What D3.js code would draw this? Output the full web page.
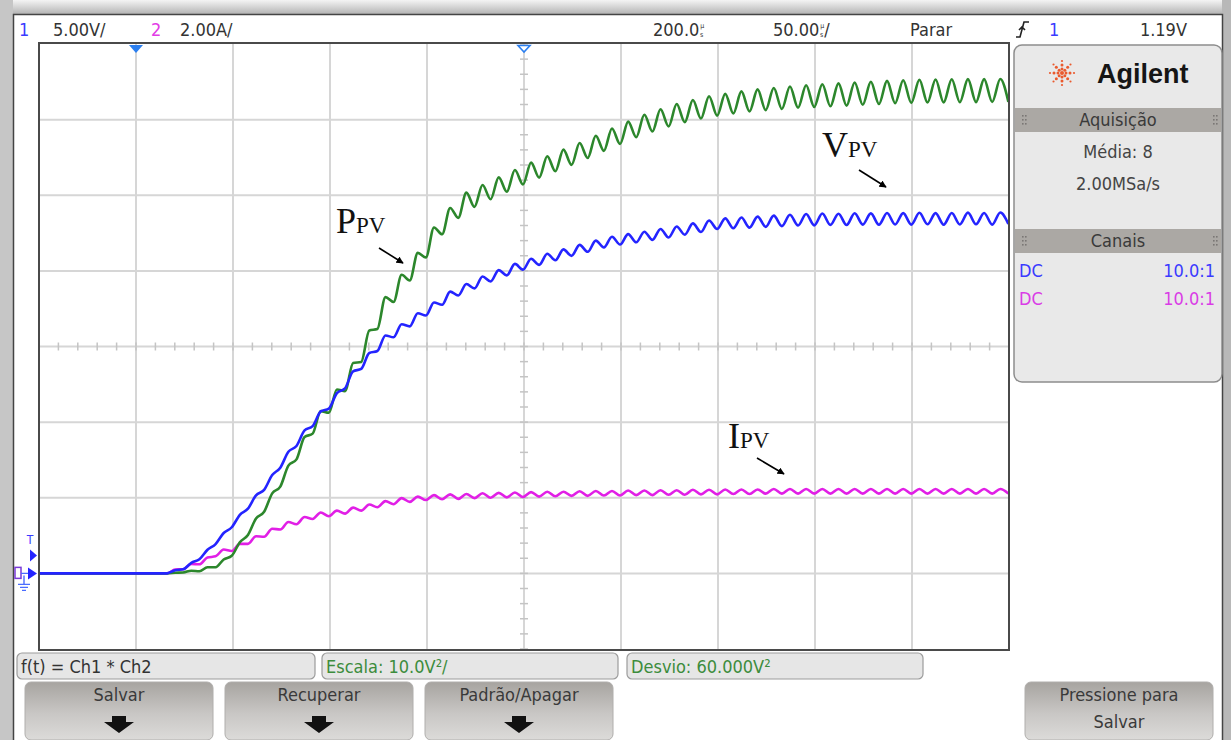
<!DOCTYPE html>
<html>
<head>
<meta charset="utf-8">
<script src="https://cdn.jsdelivr.net/npm/d3@7"></script>
<style>
  body { margin: 0; background: #fff; }
  svg { display: block; }
  .scope { font-family: 'Liberation Sans Narrow', 'DejaVu Sans Condensed', 'Roboto Condensed', sans-serif; }
  .lbl { font-family: 'Liberation Serif', 'DejaVu Serif', serif; fill: #111; }
</style>
</head>
<body>
<div id="chart"></div>
<script>
(function () {

// time base: 50 us/div, delay 200 us -> screen spans -50..450 us
const timeGrid = [-50, 0, 50, 100, 150, 200, 250, 300, 350, 400, 450];
const divGrid = [-4, -3, -2, -1, 0, 1, 2, 3, 4];

// samples (peaks / troughs of the ripple), one every 4.17 us from t = 16 us
const sampleStart = 16, sampleStep = 4.17;

// Ch1, V_PV (volts, 5 V/div)
const vpv = [0.00, 0.21, 0.27, 0.70, 0.93, 1.56, 1.94, 2.67, 3.05, 3.87, 4.28, 5.16, 5.52, 6.50, 6.99,
  8.04, 8.42, 9.45, 9.73, 10.71, 10.89, 11.92, 12.23, 13.36, 13.52, 14.57, 14.70, 15.73, 15.61, 16.47,
  16.33, 17.20, 17.05, 17.91, 17.76, 18.63, 18.37, 19.13, 18.84, 19.63, 19.30, 20.05, 19.70, 20.46, 20.08,
  20.80, 20.40, 21.13, 20.70, 21.42, 20.99, 21.72, 21.26, 22.00, 21.55, 22.26, 21.74, 22.43, 21.89, 22.59,
  22.05, 22.77, 22.21, 22.93, 22.39, 23.14, 22.57, 23.33, 22.77, 23.47, 22.82, 23.53, 22.86, 23.59, 22.91,
  23.65, 22.96, 23.71, 23.00, 23.76, 23.01, 23.79, 23.04, 23.78, 23.03, 23.81, 23.06, 23.80, 23.05, 23.83,
  23.07, 23.82, 23.06, 23.84, 23.08, 23.82, 23.05, 23.83, 23.07, 23.85, 23.08, 23.83, 23.06, 23.86, 23.10];

// Math f(t) = Ch1 * Ch2, P_PV (10 V^2/div)
const ppv = [0.00, 0.08, 0.12, 0.35, 0.28, 0.80, 0.81, 1.84, 2.33, 4.11, 5.08, 7.26, 8.14, 10.58, 11.47,
  14.25, 15.07, 18.02, 18.48, 21.46, 21.25, 24.31, 24.09, 27.82, 27.96, 32.12, 32.31, 36.53, 35.88, 39.48,
  38.73, 42.38, 41.78, 45.74, 44.84, 48.31, 47.01, 50.35, 48.46, 51.36, 49.47, 52.37, 50.46, 53.34, 51.43,
  54.31, 52.33, 55.16, 53.18, 56.03, 54.01, 56.91, 54.93, 57.87, 55.87, 58.83, 56.78, 59.74, 57.67, 60.64,
  58.42, 61.37, 59.11, 62.06, 59.67, 62.59, 60.15, 63.09, 60.53, 63.41, 60.81, 63.73, 61.09, 64.00, 61.26,
  64.19, 61.41, 64.38, 61.57, 64.54, 61.67, 64.67, 61.76, 64.79, 61.85, 64.90, 61.96, 65.01, 62.06, 65.12,
  62.17, 65.21, 62.22, 65.28, 62.26, 65.31, 62.28, 65.33, 62.30, 65.35, 62.31, 65.36, 62.33, 65.37, 62.34];

// Ch2, I_PV (amps, 2 A/div)
const ipv = [0.00, 0.10, 0.11, 0.25, 0.24, 0.42, 0.45, 0.63, 0.59, 0.78, 0.78, 0.98, 0.97, 1.18, 1.16,
  1.36, 1.30, 1.49, 1.44, 1.61, 1.51, 1.66, 1.58, 1.74, 1.66, 1.82, 1.75, 1.91, 1.83, 1.99,
  1.89, 2.03, 1.94, 2.07, 1.96, 2.09, 1.97, 2.10, 1.99, 2.12, 2.00, 2.13, 2.01, 2.14, 2.02,
  2.15, 2.03, 2.16, 2.04, 2.16, 2.05, 2.17, 2.05, 2.18, 2.06, 2.18, 2.06, 2.19, 2.07, 2.19,
  2.07, 2.20, 2.08, 2.20, 2.08, 2.21, 2.09, 2.21, 2.09, 2.22, 2.10, 2.22, 2.10, 2.22, 2.11,
  2.23, 2.11, 2.23, 2.11, 2.23, 2.11, 2.23, 2.11, 2.23, 2.11, 2.23, 2.11, 2.23, 2.11, 2.23,
  2.11, 2.23, 2.11, 2.23, 2.11, 2.23, 2.11, 2.23, 2.11, 2.23, 2.11, 2.23, 2.11, 2.23, 2.11];

const traces = [
  {name: "ipv", values: ipv, perDiv: 2, color: "#e11fe6"},
  {name: "ppv", values: ppv, perDiv: 10, color: "#2c872c"},
  {name: "vpv", values: vpv, perDiv: 5, color: "#2424ff"}
];

const groundDiv = -3;   // all three traces referenced 3 div below centre
const trigLevel = 1.19; // V on ch1

const W = 1231, H = 740;
const svg = d3.select("#chart").append("svg")
    .attr("width", W).attr("height", H)
    .attr("class", "scope");

const x = d3.scaleLinear().domain([-50, 450]).range([39, 1009]);
const yDiv = d3.scaleLinear().domain([-4, 4]).range([649, 44]);
const yOf = (v, perDiv) => yDiv(v / perDiv + groundDiv);

const defs = svg.append("defs");
const topGrad = defs.append("linearGradient").attr("id", "topg").attr("x1", 0).attr("x2", 0).attr("y1", 0).attr("y2", 1);
topGrad.append("stop").attr("offset", "0%").attr("stop-color", "#f4f4f4");
topGrad.append("stop").attr("offset", "100%").attr("stop-color", "#b4b4b4");
const keyGrad = defs.append("linearGradient").attr("id", "keyg").attr("x1", 0).attr("x2", 0).attr("y1", 0).attr("y2", 1);
keyGrad.append("stop").attr("offset", "0%").attr("stop-color", "#a7a4a0");
keyGrad.append("stop").attr("offset", "55%").attr("stop-color", "#c9c7c5");
keyGrad.append("stop").attr("offset", "100%").attr("stop-color", "#dcdbd9");
defs.append("clipPath").attr("id", "plotclip").append("rect")
    .attr("x", x(-50)).attr("y", yDiv(4)).attr("width", x(450) - x(-50)).attr("height", yDiv(-4) - yDiv(4));
defs.append("marker").attr("id", "ah").attr("viewBox", "0 0 10 10").attr("refX", 9).attr("refY", 5)
    .attr("markerWidth", 4.5).attr("markerHeight", 4.5).attr("orient", "auto")
  .append("path").attr("d", "M0,0 L10,5 L0,10 z").attr("fill", "#000");

// outer bezel
svg.append("rect").attr("x", 0).attr("y", 0).attr("width", W).attr("height", 14).attr("fill", "url(#topg)");
svg.append("rect").attr("x", 0).attr("y", 0).attr("width", 13).attr("height", H).attr("fill", "#c6c6c6");
svg.append("rect").attr("x", 1222).attr("y", 0).attr("width", 9).attr("height", H).attr("fill", "#b8b8b8");
svg.append("path").attr("d", "M13.5,740 V14.5 H1222.5 V740").attr("fill", "none").attr("stroke", "#444").attr("stroke-width", 1.5);

// header line
const head = svg.append("g").attr("font-size", 18).attr("fill", "#333");
head.append("text").attr("x", 19).attr("y", 36).attr("fill", "#3b3bff").text("1");
head.append("text").attr("x", 53).attr("y", 36).text("5.00V/");
head.append("text").attr("x", 151).attr("y", 36).attr("fill", "#e23ce6").text("2");
head.append("text").attr("x", 180).attr("y", 36).text("2.00A/");
// value followed by a small stacked "µ over s" unit glyph
function usText(x0, main, tail) {
  const t = head.append("text").attr("x", x0).attr("y", 36);
  t.append("tspan").text(main);
  t.append("tspan").attr("font-size", 7).attr("dx", 1).attr("dy", -8).text("µ");
  t.append("tspan").attr("font-size", 7).attr("dx", -4.5).attr("dy", 9).text("s");
  if (tail) t.append("tspan").attr("font-size", 18).attr("dx", 1).attr("dy", -1).text(tail);
}
usText(653, "200.0", "");
usText(773, "50.00", "/");
head.append("text").attr("x", 910).attr("y", 36).text("Parar");
head.append("path").attr("d", "M1016,37 H1020 L1024,22 H1029 M1019,30 L1022,27 L1025,30")
    .attr("fill", "none").attr("stroke", "#222").attr("stroke-width", 1.6);
head.append("text").attr("x", 1049).attr("y", 36).attr("fill", "#3b3bff").text("1");
head.append("text").attr("x", 1187).attr("y", 36).attr("text-anchor", "end").text("1.19V");

// graticule
const grid = svg.append("g");
grid.selectAll("line.gx").data(timeGrid.slice(1, -1)).join("line")
    .attr("x1", d => x(d)).attr("x2", d => x(d)).attr("y1", yDiv(4)).attr("y2", yDiv(-4))
    .attr("stroke", "#d6d6d6").attr("stroke-width", 2);
grid.selectAll("line.gy").data(divGrid.slice(1, -1)).join("line")
    .attr("y1", d => yDiv(d)).attr("y2", d => yDiv(d)).attr("x1", x(-50)).attr("x2", x(450))
    .attr("stroke", "#d6d6d6").attr("stroke-width", 2);
grid.selectAll("line.tx").data(d3.range(-50, 450.01, 10)).join("line")
    .attr("x1", d => x(d)).attr("x2", d => x(d)).attr("y1", yDiv(0) - 4).attr("y2", yDiv(0) + 4)
    .attr("stroke", "#c4c4c4").attr("stroke-width", 1.5);
grid.selectAll("line.ty").data(d3.range(-4, 4.01, 0.2)).join("line")
    .attr("y1", d => yDiv(d)).attr("y2", d => yDiv(d)).attr("x1", x(200) - 4).attr("x2", x(200) + 4)
    .attr("stroke", "#c4c4c4").attr("stroke-width", 1.5);

// traces
const plot = svg.append("g").attr("clip-path", "url(#plotclip)");
traces.forEach(tr => {
  const pts = [{t: -50, v: 0}].concat(tr.values.map((v, i) => ({t: sampleStart + i * sampleStep, v: v})));
  const line = d3.line().x(d => x(d.t)).y(d => yOf(d.v, tr.perDiv)).curve(d3.curveMonotoneX);
  plot.append("path").datum(pts).attr("d", line)
      .attr("fill", "none").attr("stroke", tr.color).attr("stroke-width", 2.6)
      .attr("stroke-linejoin", "round");
});

// plot frame
svg.append("rect").attr("x", x(-50)).attr("y", 43).attr("width", x(450) - x(-50)).attr("height", yDiv(-4) + 1 - 43)
    .attr("fill", "none").attr("stroke", "#4a4a4a").attr("stroke-width", 2);

// markers
const mk = "#2b7ff0";
svg.append("path").attr("d", `M${x(0) - 7},45 H${x(0) + 7} L${x(0)},53 Z`).attr("fill", mk);
svg.append("path").attr("d", `M${x(200) - 6},45.5 H${x(200) + 6} L${x(200)},52 Z`).attr("fill", "#fff").attr("stroke", mk).attr("stroke-width", 1.6);
const yTrig = yOf(trigLevel, 5), yG = yDiv(groundDiv);
svg.append("text").attr("x", 30).attr("y", yTrig - 11).attr("font-size", 12).attr("text-anchor", "middle").attr("fill", "#3a3aff").text("T");
svg.append("path").attr("d", `M30,${yTrig - 6} L37,${yTrig} L30,${yTrig + 6} Z`).attr("fill", "#2424ff");
svg.append("path").attr("d", `M28,${yG - 6} L37,${yG} L28,${yG + 6} Z`).attr("fill", "#2424ff");
svg.append("rect").attr("x", 15).attr("y", yG - 6).attr("width", 6).attr("height", 11).attr("fill", "none").attr("stroke", "#7a3ad8").attr("stroke-width", 1.5);
svg.append("path").attr("d", `M21,${yG} H28 M24,${yG + 2} V${yG + 11} M18,${yG + 11} H30 M20,${yG + 14} H28 M22,${yG + 17} H26`)
    .attr("stroke", "#4a6cff").attr("stroke-width", 1.4).attr("fill", "none");

// trace labels
function traceLabel(x0, yb, big, ax1, ay1, ax2, ay2) {
  const t = svg.append("text").attr("class", "lbl").attr("x", x0).attr("y", yb);
  t.append("tspan").attr("font-size", 36).text(big);
  t.append("tspan").attr("font-size", 23).text("PV");
  svg.append("line").attr("x1", ax1).attr("y1", ay1).attr("x2", ax2).attr("y2", ay2)
      .attr("stroke", "#000").attr("stroke-width", 1.6).attr("marker-end", "url(#ah)");
}
traceLabel(336, 233, "P", 379, 248, 403, 263);
traceLabel(822, 157, "V", 859, 170, 886, 187);
traceLabel(728, 448, "I", 757, 458, 784, 474);

// right-hand panel
const side = svg.append("g");
side.append("rect").attr("x", 1014).attr("y", 45).attr("width", 208).attr("height", 337).attr("rx", 8)
    .attr("fill", "#e9e9e9").attr("stroke", "#8d8d8d").attr("stroke-width", 1.5);
const spark = side.append("g").attr("transform", "translate(1062,73)");
d3.range(0, 360, 45).forEach(a => {
  const r = a * Math.PI / 180;
  [4, 8, 12].forEach(d => spark.append("circle").attr("cx", Math.cos(r) * d).attr("cy", Math.sin(r) * d)
      .attr("r", d === 12 ? 1.1 : 1.5).attr("fill", "#ea5a2e"));
});
spark.append("circle").attr("r", 2).attr("fill", "#ea5a2e");
side.append("text").attr("x", 1097).attr("y", 83).attr("font-family", "'Liberation Sans', Arial, sans-serif")
    .attr("font-weight", "bold").attr("font-size", 27).attr("fill", "#151515").text("Agilent");
function bar(y0, label) {
  side.append("rect").attr("x", 1015).attr("y", y0).attr("width", 206).attr("height", 24).attr("fill", "#aba8a4");
  side.append("text").attr("x", 1118).attr("y", y0 + 18).attr("text-anchor", "middle").attr("font-size", 18).attr("fill", "#3a3a3a").text(label);
  [1022, 1213].forEach(gx => {
    [0, 1].forEach(c => [0, 1, 2].forEach(r => side.append("rect").attr("x", gx + c * 3).attr("y", y0 + 7 + r * 4)
        .attr("width", 1.6).attr("height", 1.6).attr("fill", "#7a7775")));
  });
}
bar(108, "Aquisição");
side.append("text").attr("x", 1118).attr("y", 158).attr("text-anchor", "middle").attr("font-size", 18).attr("fill", "#444").text("Média: 8");
side.append("text").attr("x", 1118).attr("y", 190).attr("text-anchor", "middle").attr("font-size", 18).attr("fill", "#444").text("2.00MSa/s");
bar(229, "Canais");
[["#3a3aff", 277], ["#d93ce6", 305]].forEach(([c, yb]) => {
  side.append("text").attr("x", 1019).attr("y", yb).attr("font-size", 18).attr("fill", c).text("DC");
  side.append("text").attr("x", 1215).attr("y", yb).attr("text-anchor", "end").attr("font-size", 18).attr("fill", c).text("10.0:1");
});

// math info boxes
const info = [
  {x0: 17, x1: 315, text: "f(t) = Ch1 * Ch2", color: "#333"},
  {x0: 322, x1: 618, text: "Escala: 10.0V²/", color: "#3c8c3c"},
  {x0: 627, x1: 923, text: "Desvio: 60.000V²", color: "#3c8c3c"}
];
info.forEach(b => {
  svg.append("rect").attr("x", b.x0).attr("y", 653).attr("width", b.x1 - b.x0).attr("height", 26).attr("rx", 5)
      .attr("fill", "#e6e6e6").attr("stroke", "#9c9c9c").attr("stroke-width", 1.2);
  svg.append("text").attr("x", b.x0 + 4).attr("y", 673).attr("font-size", 18).attr("fill", b.color).text(b.text);
});

// softkeys
const keys = [
  {x0: 25, lines: ["Salvar"], arrow: true},
  {x0: 225, lines: ["Recuperar"], arrow: true},
  {x0: 425, lines: ["Padrão/Apagar"], arrow: true},
  {x0: 1025, lines: ["Pressione para", "Salvar"], arrow: false}
];
keys.forEach(k => {
  const cx = k.x0 + 94;
  svg.append("rect").attr("x", k.x0).attr("y", 682).attr("width", 188).attr("height", 58).attr("rx", 6)
      .attr("fill", "url(#keyg)").attr("stroke", "#b0aeac");
  k.lines.forEach((l, i) => svg.append("text").attr("x", cx).attr("y", 701 + i * 27).attr("text-anchor", "middle")
      .attr("font-size", 18).attr("fill", "#3a3a3a").text(l));
  if (k.arrow) {
    svg.append("path").attr("d", `M${cx - 7},716 H${cx + 7} V722 H${cx + 15} L${cx},733 L${cx - 15},722 H${cx - 7} Z`).attr("fill", "#111");
  }
});

})();
</script>
</body>
</html>
